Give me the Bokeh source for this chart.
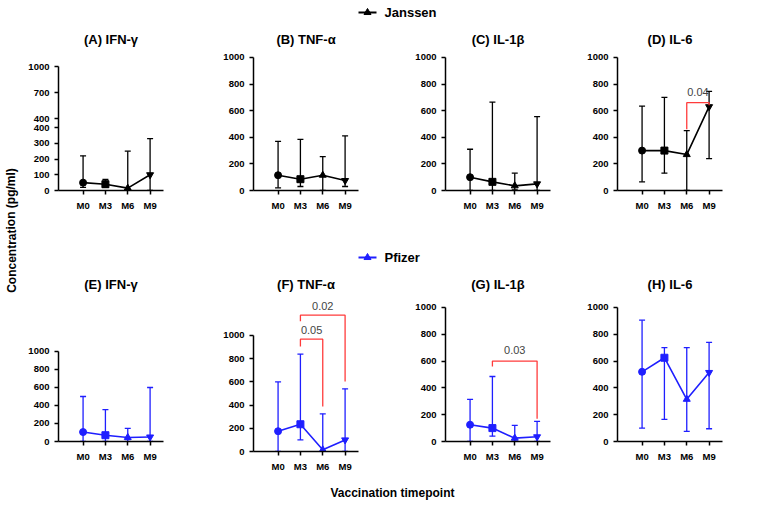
from bokeh.plotting import figure
from bokeh.layouts import row, column
from bokeh.models import Range1d, FixedTicker, Whisker, TeeHead, ColumnDataSource
from bokeh.embed import file_html
from bokeh.resources import INLINE

timepoints = ["M0", "M3", "M6", "M9"]
titles_j = ["(A) IFN-γ", "(B) TNF-α", "(C) IL-1β", "(D) IL-6"]
titles_p = ["(E) IFN-γ", "(F) TNF-α", "(G) IL-1β", "(H) IL-6"]
j_mean = [[50, 40, 15, 100], [115, 85, 115, 75], [100, 65, 35, 50], [300, 300, 270, 630]]
j_low = [[20, 20, 5, 0], [20, 30, 0, 30], [0, 0, 5, 0], [65, 130, 0, 240]]
j_high = [[220, 70, 250, 330], [370, 385, 255, 410], [310, 665, 130, 555], [635, 700, 450, 745]]
p_mean = [[105, 70, 45, 50], [175, 235, 15, 100], [125, 100, 25, 35], [520, 625, 315, 515]]
p_low = [[0, 0, 0, 0], [0, 100, 0, 0], [0, 40, 0, 0], [100, 165, 75, 95]]
p_high = [[500, 355, 145, 600], [600, 840, 325, 540], [315, 485, 120, 150], [905, 700, 700, 740]]
# brackets: (panel_row, panel_idx, x0, x1, y_top, left_leg, right_leg, label, label_y)
brackets = [
    (0, 3, 2, 3, 660, 460, 640, "0.04", 740),
    (1, 1, 1, 2, 968, 905, 388, "0.05", 1043),
    (1, 1, 1, 3, 1175, 1123, 603, "0.02", 1253),
    (1, 2, 1, 3, 600, 560, 170, "0.03", 686),
]
# A panel broken axis ticks (lower 0-400, upper 400-1000 compressed)
a_tick_pos = [0, 100, 200, 300, 400, 457, 622, 787]
a_tick_lab = ["0", "100", "200", "300", "400", "400", "700", "1000"]

FONT = "Liberation Sans"
markers = ["circle", "square", "triangle", "inverted_triangle"]
xs = [0, 1, 2, 3]

starts = [22, 205, 395, 570]
ends = [205, 395, 570, 763]
axis_x = [58, 253, 445, 617]


def panel(i, r, title, mean, low, high, color, yend, fh, bb, bounds_top):
    bl = axis_x[i] - starts[i]
    w = ends[i] - starts[i]
    p = figure(frame_width=105, frame_height=fh, output_backend="svg", toolbar_location=None,
               x_range=Range1d(-1.1, 3.6), y_range=Range1d(0, yend),
               min_border_left=bl, min_border_right=w - bl - 105, min_border_top=2,
               min_border_bottom=bb, title=title)
    p.title.align = "center"
    p.title.text_font = FONT
    p.title.text_font_size = "13px"
    p.title.text_font_style = "bold"
    p.title.text_color = "black"
    p.outline_line_color = None
    p.grid.visible = False
    p.background_fill_color = None
    p.border_fill_color = None
    for ax in (p.xaxis[0], p.yaxis[0]):
        ax.axis_line_width = 1.5
        ax.major_tick_line_width = 1.5
        ax.major_tick_in = 0
        ax.major_tick_out = 4
        ax.minor_tick_line_color = None
        ax.major_label_text_font = FONT
        ax.major_label_text_font_style = "bold"
        ax.major_label_text_font_size = "9.5px"
        ax.major_label_text_color = "black"
    p.xaxis.ticker = FixedTicker(ticks=xs)
    p.xaxis.major_label_overrides = {k: t for k, t in zip(xs, timepoints)}
    p.yaxis.bounds = (0, bounds_top)
    if r == 0 and i == 0:
        p.yaxis.ticker = FixedTicker(ticks=a_tick_pos)
        p.yaxis.major_label_overrides = {k: t for k, t in zip(a_tick_pos, a_tick_lab)}
    else:
        p.yaxis.ticker = FixedTicker(ticks=[0, 200, 400, 600, 800, 1000])
    src = ColumnDataSource(dict(x=xs, y=mean, lo=low, hi=high))
    p.add_layout(Whisker(source=src, base="x", upper="hi", lower="lo", line_color=color, line_width=1.3,
                         upper_head=TeeHead(size=6, line_color=color, line_width=1.3),
                         lower_head=TeeHead(size=6, line_color=color, line_width=1.3)))
    p.line(xs, mean, line_color=color, line_width=1.6)
    for x, y, m in zip(xs, mean, markers):
        p.scatter([x], [y], marker=m, size=7, color=color)
    for b in brackets:
        if b[0] == r and b[1] == i:
            _, _, x0, x1, yt, ll, rl, lab, ly = b
            p.line([x0, x0, x1, x1], [ll, yt, yt, rl], line_color="#ff3b3b", line_width=1.3)
            p.text([(x0 + x1) / 2], [ly], text=[lab], text_align="center", text_baseline="middle",
                   text_font_size="11px", text_color="#444444", text_font={"value": FONT})
    return p


def legend_fig(name, color, h):
    p = figure(width=741, height=h, output_backend="svg", toolbar_location=None,
               x_range=Range1d(0, 741), y_range=Range1d(0, h), min_border=0)
    p.axis.visible = False
    p.grid.visible = False
    p.outline_line_color = None
    p.line([336, 354], [h / 2, h / 2], line_color=color, line_width=2)
    p.scatter([345], [h / 2], marker="triangle", size=7, color=color)
    p.text([362], [h / 2], text=[name], text_baseline="middle", text_font_size="13px",
           text_font_style="bold", text_font={"value": FONT})
    return p


row1 = []
row2 = []
for i in range(4):
    yend_a = 883 if i == 0 else 1045
    row1.append(panel(i, 0, titles_j[i], j_mean[i], j_low[i], j_high[i], "black", yend_a, 139, 55,
                      787 if i == 0 else 1000))
p_yend = [1611, 1336, 1082, 1082]
p_fh = [145, 155, 145, 145]
for i in range(4):
    row2.append(panel(i, 1, titles_p[i], p_mean[i], p_low[i], p_high[i], "#1f1fff", p_yend[i], p_fh[i],
                      30 if i != 1 else 27, 1000))

xl = figure(width=741, height=28, output_backend="svg", toolbar_location=None,
            x_range=Range1d(0, 741), y_range=Range1d(0, 28), min_border=0)
xl.axis.visible = False
xl.grid.visible = False
xl.outline_line_color = None
xl.text([370], [14], text=["Vaccination timepoint"], text_align="center", text_baseline="middle",
        text_font_size="12px", text_font_style="bold", text_font={"value": FONT})

yl = figure(width=22, height=505, output_backend="svg", toolbar_location=None,
            x_range=Range1d(0, 22), y_range=Range1d(0, 505), min_border=0)
yl.axis.visible = False
yl.grid.visible = False
yl.outline_line_color = None
yl.text([11], [275], text=["Concentration (pg/ml)"], angle=1.5708, text_align="center",
        text_baseline="middle", text_font_size="12px", text_font_style="bold", text_font={"value": FONT})

layout = row(yl, column(legend_fig("Janssen", "black", 24), row(*row1), legend_fig("Pfizer", "#1f1fff", 24),
                        row(*row2), xl, spacing=0), spacing=0)
open("out.html", "w").write(file_html(layout, INLINE))
